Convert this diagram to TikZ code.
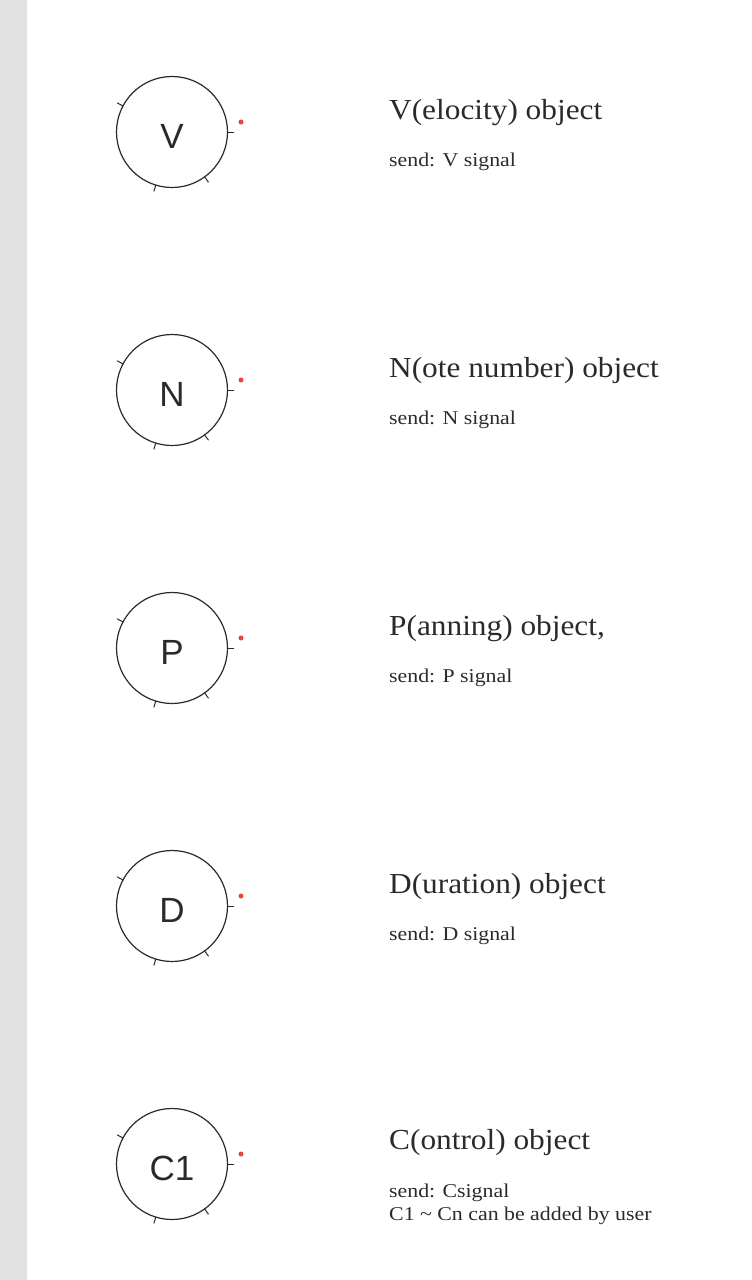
\documentclass[tikz,border=0pt]{standalone}
\usepackage{fontspec}
\setmainfont{Liberation Serif}
\newfontfamily\titlefont[FakeStretch=1.08]{Liberation Serif}
\newfontfamily\subfont[FakeStretch=1.12]{Liberation Serif}
\newfontfamily\letterfont{Liberation Sans}
\definecolor{stripe}{HTML}{E2E2E2}
\definecolor{ink}{HTML}{2A2A2A}
\definecolor{dotred}{HTML}{E8453C}
\begin{document}
\begin{tikzpicture}[x=1pt,y=-1pt,
  obj/.style={circle,draw=ink,line width=1.2pt,minimum size=111pt,inner sep=0pt},
  lettr/.style={anchor=base,inner sep=0pt,font=\letterfont\fontsize{35}{35}\selectfont,text=ink},
  tick/.style={draw=ink,line width=1pt},
  reddot/.style={circle,fill=dotred,inner sep=0pt,minimum size=5pt},
  title/.style={anchor=base west,inner sep=0pt,font=\titlefont\fontsize{29}{29}\selectfont,text=ink},
  sub/.style={anchor=base west,inner sep=0pt,align=left,font=\subfont\fontsize{19.5}{23}\selectfont,text=ink}]
\useasboundingbox (0,0) rectangle (752,1280);
\fill[stripe] (0,0) rectangle (27,1280);
\foreach \n/\lab/\yc in {v/V/132,n/N/390,p/P/648,d/D/906,c/C1/1164}{
  \node[obj] (\n) at (172,\yc) {};
  \node[lettr] (\n lab) at (172,\yc+16) {\lab};
  \foreach \a in {152,0,-54,-107}{
    \draw[tick] (\n.\a) ++(\a:-1pt) -- ++(\a:7pt);
  }
  \node[reddot] (\n dot) at (241,\yc-10) {};
}
\node[title] (tv) at (389,119) {V(elocity) object};
\node[sub] (sv) at (389,166) {send: V signal};
\node[title] (tn) at (389,377) {N(ote number) object};
\node[sub] (sn) at (389,424) {send: N signal};
\node[title] (tp) at (389,635) {P(anning) object,};
\node[sub] (sp) at (389,682) {send: P signal};
\node[title] (td) at (389,893) {D(uration) object};
\node[sub] (sd) at (389,940) {send: D signal};
\node[title] (tc) at (389,1149) {C(ontrol) object};
\node[sub] (sc) at (389,1220) {send: Csignal\\C1 \textasciitilde{} Cn can be added by user};
\end{tikzpicture}
\end{document}
